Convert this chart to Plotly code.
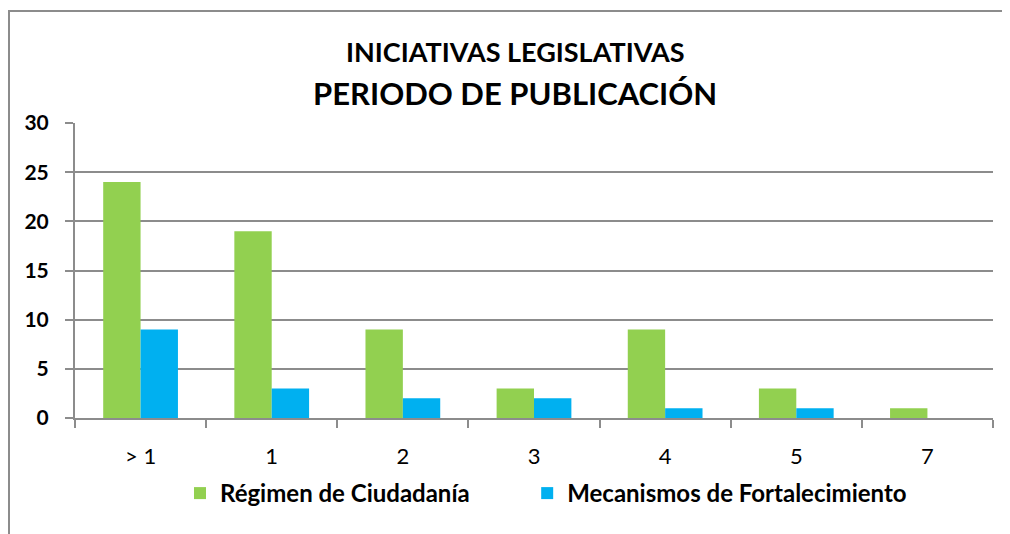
import plotly.graph_objects as go

categories = ["> 1", "1", "2", "3", "4", "5", "7"]
regimen = [24, 19, 9, 3, 9, 3, 1]
mecanismos = [9, 3, 2, 2, 1, 1, 0]

GREEN = "#92D050"
BLUE = "#00B0F0"
GRID = "#8c8c8c"
FONT = "Lato, 'Open Sans', sans-serif"

fig = go.Figure()
# trailing no-break spaces widen the gap between the two legend entries
fig.add_trace(go.Bar(x=categories, y=regimen, name="Régimen de Ciudadanía" + "\u00a0" * 9,
                     marker=dict(color=GREEN, line=dict(width=0))))
fig.add_trace(go.Bar(x=categories, y=mecanismos, name="Mecanismos de Fortalecimiento",
                     marker=dict(color=BLUE, line=dict(width=0))))

# the page body has an 8px margin, so figure coords = screen coords - 8
OFF = 8
L, R, T, B = 75 - OFF, 993 - OFF, 123 - OFF, 418 - OFF
FW, FH = 1010, 534
W, H = R - L, B - T


def px_x(x):
    return (x - OFF - L) / W


def px_y(y):
    return (B - (y - OFF)) / H


fig.update_layout(
    width=FW, height=FH,
    margin=dict(l=L, r=FW - R, t=T, b=FH - B, autoexpand=False),
    paper_bgcolor="white", plot_bgcolor="white",
    font=dict(family=FONT, color="black", size=16),
    barmode="group", bargap=0.43, bargroupgap=0,
    showlegend=True,
    legend=dict(orientation="h", x=px_x(546), xanchor="center",
                y=px_y(471), yanchor="top",
                font=dict(size=24, weight="bold"), itemwidth=30,
                traceorder="normal"),
    xaxis=dict(
        showline=True, linecolor=GRID, linewidth=2,
        ticks="outside", tickson="boundaries", ticklen=8, tickcolor=GRID, tickwidth=2,
        tickfont=dict(size=22), ticklabelstandoff=18,
        showgrid=False,
    ),
    yaxis=dict(
        range=[0, 30], dtick=5,
        showline=True, linecolor=GRID, linewidth=2,
        showgrid=True, gridcolor=GRID, gridwidth=1.5,
        ticks="outside", ticklen=8, tickcolor=GRID, tickwidth=2,
        tickfont=dict(size=21, weight="bold"), ticklabelstandoff=12,
        zeroline=False,
    ),
    annotations=[
        dict(text="INICIATIVAS LEGISLATIVAS", xref="paper", yref="paper",
             x=px_x(515), y=px_y(51), xanchor="center", yanchor="middle", showarrow=False,
             font=dict(size=27, weight="bold", family=FONT, color="black")),
        dict(text="PERIODO DE PUBLICACIÓN", xref="paper", yref="paper",
             x=px_x(515), y=px_y(93), xanchor="center", yanchor="middle", showarrow=False,
             font=dict(size=31, weight="bold", family=FONT, color="black")),
    ],
    shapes=[dict(
        type="rect", xref="paper", yref="paper",
        x0=(1 - L) / W, x1=px_x(1005),
        y0=(B - 560) / H, y1=px_y(11),
        line=dict(color="#8c8c8c", width=2), fillcolor="rgba(0,0,0,0)", layer="below",
    )],
)

fig.write_html("out.html")
